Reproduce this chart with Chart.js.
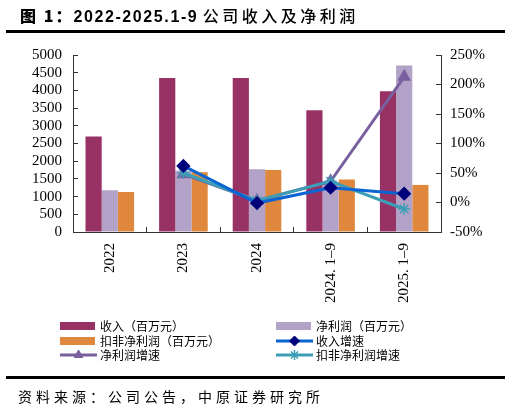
<!DOCTYPE html>
<html>
<head>
<meta charset="utf-8">
<script src="https://cdn.jsdelivr.net/npm/chart.js@4.4.1/dist/chart.umd.min.js"></script>
<style>
  html, body { margin: 0; padding: 0; background: #fff; }
  #wrap { position: relative; width: 511px; height: 409px; overflow: hidden; }
  #chart { position: absolute; left: 0; top: 0; }
  #title {
    position: absolute; left: 20px; top: 4px; white-space: nowrap;
    font-family: "Liberation Sans", "Noto Sans CJK SC", sans-serif;
    font-size: 16px; line-height: 22px; color: #000;
  }
  #title .h { font-family: "Noto Sans CJK SC"; font-weight: 900; letter-spacing: 2px; }
  #title .n { font-weight: bold; letter-spacing: 1.6px; }
  #title .c { font-family: "Noto Sans CJK SC"; font-weight: 500; letter-spacing: 3.5px; }
  .rule { position: absolute; left: 6px; width: 499px; background: #000; }
  #source {
    position: absolute; left: 18px; top: 386px; white-space: nowrap;
    font-family: "Noto Sans CJK SC"; font-size: 14px; line-height: 20px;
    letter-spacing: 4px; color: #000;
  }
</style>
</head>
<body>
<div id="wrap">
  <canvas id="chart" width="511" height="409"></canvas>
  <div id="title"><span class="h">图 1：</span><span class="n">2022-2025.1-9</span> <span class="c">公司收入及净利润</span></div>
  <div class="rule" style="top:30px;height:3px;"></div>
  <div class="rule" style="top:376px;height:3px;"></div>
  <div id="source">资料来源：公司公告，中原证券研究所</div>
</div>
<script>
const categories = ["2022", "2023", "2024", "2024. 1\u20139", "2025. 1\u20139"];
const revenue = [2700, 4350, 4350, 3440, 3975];
const netProfit = [1180, 1730, 1770, 1420, 4700];
const deductedProfit = [1130, 1690, 1750, 1480, 1330];
const revenueGrowth = [null, 62, -1, 25, 15];
const netProfitGrowth = [null, 48, 3, 36, 213];
const deductedGrowth = [null, 50, 3, 36, -11];

const legendFont = '12px "Noto Sans CJK SC"';

// two-column legend under the axis labels
const legendPlugin = {
  id: "gridLegend",
  afterDraw(chart) {
    const ctx = chart.ctx;
    const cols = [60, 276];
    const rows = [326, 341, 355];
    ctx.save();
    ctx.font = legendFont;
    ctx.textBaseline = "middle";
    chart.data.datasets.forEach((ds, i) => {
      const x = cols[i % 2];
      const y = rows[Math.floor(i / 2)];
      if (ds.type === "bar") {
        ctx.fillStyle = ds.backgroundColor;
        ctx.fillRect(x, y - 4, 35, 8);
      } else {
        ctx.strokeStyle = ds.borderColor;
        ctx.lineWidth = 3;
        ctx.beginPath();
        ctx.moveTo(x, y);
        ctx.lineTo(x + 37, y);
        ctx.stroke();
        ctx.fillStyle = ds.pointBackgroundColor;
        ctx.strokeStyle = ds.pointBorderColor;
        ctx.lineWidth = ds.pointBorderWidth || 1;
        Chart.helpers.drawPoint(ctx, {
          pointStyle: ds.pointStyle,
          radius: 5,
          borderWidth: ds.pointBorderWidth || 1,
        }, x + 18.5, y);
      }
      ctx.fillStyle = "#000";
      ctx.fillText(ds.label, x + 40, y);
    });
    ctx.restore();
  },
};

const serif = { family: "Liberation Serif", size: 15 };

new Chart(document.getElementById("chart"), {
  data: {
    labels: categories,
    datasets: [
      {
        type: "bar",
        label: "收入（百万元）",
        data: revenue,
        backgroundColor: "#983264",
        yAxisID: "y",
        order: 2,
      },
      {
        type: "bar",
        label: "净利润（百万元）",
        data: netProfit,
        backgroundColor: "#B3A2C7",
        yAxisID: "y",
        order: 2,
      },
      {
        type: "bar",
        label: "扣非净利润（百万元）",
        data: deductedProfit,
        backgroundColor: "#DF873D",
        yAxisID: "y",
        order: 2,
      },
      {
        type: "line",
        label: "收入增速",
        data: revenueGrowth,
        borderColor: "#0A64D2",
        backgroundColor: "#00007A",
        pointBackgroundColor: "#00007A",
        pointBorderColor: "#00007A",
        pointStyle: "rectRot",
        pointRadius: 5,
        borderWidth: 3,
        yAxisID: "y1",
        order: 0,
      },
      {
        type: "line",
        label: "净利润增速",
        data: netProfitGrowth,
        borderColor: "#78609E",
        backgroundColor: "#78609E",
        pointBackgroundColor: "#78609E",
        pointBorderColor: "#78609E",
        pointStyle: "triangle",
        pointRadius: 5,
        borderWidth: 3,
        yAxisID: "y1",
        order: 1,
      },
      {
        type: "line",
        label: "扣非净利润增速",
        data: deductedGrowth,
        borderColor: "#3C9EB6",
        backgroundColor: "#3C9EB6",
        pointBackgroundColor: "#3C9EB6",
        pointBorderColor: "#3C9EB6",
        pointStyle: "star",
        pointRadius: 6,
        pointBorderWidth: 1.5,
        borderWidth: 3,
        yAxisID: "y1",
        order: 0,
      },
    ],
  },
  options: {
    responsive: false,
    animation: false,
    layout: { padding: { top: 55, left: 0, right: 0, bottom: 0 } },
    categoryPercentage: 0.66,
    barPercentage: 1.0,
    plugins: {
      legend: { display: false },
      tooltip: { enabled: false },
    },
    scales: {
      x: {
        offset: true,
        grid: { offset: true, drawOnChartArea: false, tickLength: -5, color: "#333" },
        border: { color: "#333", width: 1 },
        ticks: {
          font: serif,
          color: "#000",
          minRotation: 90,
          maxRotation: 90,
          autoSkip: false,
          padding: 16,
        },
        afterFit(scale) { scale.height = 177; },
      },
      y: {
        position: "left",
        min: 0,
        max: 5000,
        grid: { drawOnChartArea: false, tickLength: -5, color: "#333" },
        border: { color: "#333", width: 1 },
        ticks: {
          stepSize: 500,
          autoSkip: false,
          font: serif,
          color: "#000",
          padding: 16,
          callback: (v) => String(v),
        },
        afterFit(scale) { scale.width = 73; },
      },
      y1: {
        position: "right",
        min: -50,
        max: 250,
        grid: { drawOnChartArea: false, tickLength: -5, color: "#333" },
        border: { color: "#333", width: 1 },
        ticks: {
          stepSize: 50,
          autoSkip: false,
          font: serif,
          color: "#000",
          padding: 14,
          callback: (v) => v + "%",
        },
        afterFit(scale) { scale.width = 70; },
      },
    },
  },
  plugins: [legendPlugin],
});
</script>
</body>
</html>
